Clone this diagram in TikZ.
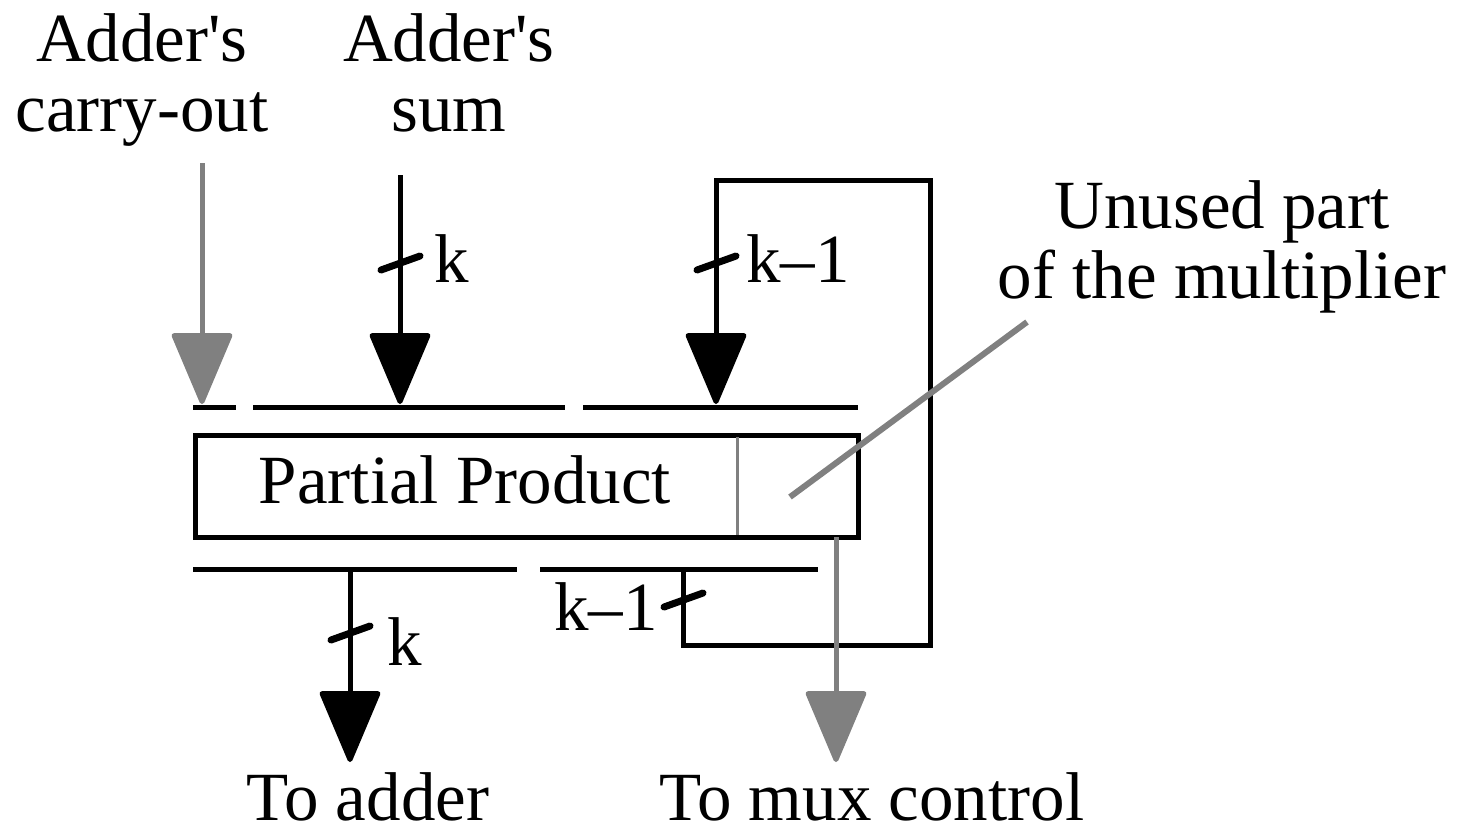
\documentclass[tikz,border=0pt]{standalone}
\usepackage{fontspec}
\setmainfont{Liberation Serif}
\usepackage{tikz}
\usetikzlibrary{arrows.meta, calc}

\begin{document}
\begin{tikzpicture}[x=0.5pt,y=-0.5pt,
    every node/.style={font=\fontsize{34.5pt}{35pt}\selectfont, inner sep=0pt},
    wire/.style={line width=2.5pt},
    greywire/.style={line width=2.5pt, gray},
    sig/.style={-{Triangle[length=37.5pt,width=31pt,round]}},
    slash/.style={line width=3.5pt, line cap=round}]
  \useasboundingbox (0,0) rectangle (1457,827);
  % register
  \node[draw, line width=2.5pt, minimum width=331.5pt, minimum height=51pt] (pp) at (526.5,486) {};
  \node (pptext) at (465,503) [anchor=base] {Partial Product};
  \draw[gray, line width=1.5pt] (737,437) -- (737,535);
  % bus lines above and below
  \coordinate (ti1) at (193,407); \coordinate (to1) at (236,407);
  \coordinate (ti2) at (253,407); \coordinate (to2) at (565,407);
  \coordinate (ti3) at (583,407); \coordinate (to3) at (858,407);
  \coordinate (bi1) at (193,569); \coordinate (bo1) at (517,569);
  \coordinate (bi2) at (540,569); \coordinate (bo2) at (818,569);
  \draw[wire] (ti1) -- (to1);
  \draw[wire] (ti2) -- (to2);
  \draw[wire] (ti3) -- (to3);
  \draw[wire] (bi1) -- (bo1);
  \draw[wire] (bi2) -- (bo2);
  % inputs
  \node[align=center] (cout) at (142,80) {Adder\textquotesingle s\\carry-out};
  \node[align=center] (sum) at (449,73) {Adder\textquotesingle s\\sum};
  \coordinate (coutin) at (202,163);  \coordinate (coutend) at (202,404);
  \coordinate (sumin) at (400,175);   \coordinate (sumend) at (400,404);
  \draw[greywire, sig] (coutin) -- (coutend);
  \draw[wire, sig] (sumin) -- (sumend);
  \draw[slash] (381,270) -- (420,256);
  \node (ksum) at (452,282) [anchor=base] {k};
  % feedback of the shifted bits
  \coordinate (fbout) at (683,569);
  \coordinate (fbin) at (716,404);
  \draw[wire, sig] (fbout) |- (930,645) |- (716,180) -- (fbin);
  \draw[slash] (697,270) -- (736,256);
  \node (kfb) at (798,282) [anchor=base] {k--1};
  \draw[slash] (664,607) -- (703,593);
  \node (kback) at (606,630) [anchor=base] {k--1};
  % outputs
  \node (toadd) at (368,820) [anchor=base] {To adder};
  \node (tomux) at (872,820) [anchor=base] {To mux control};
  \coordinate (addout) at (350,569);  \coordinate (addend) at (350,762);
  \coordinate (muxout) at (836,537);  \coordinate (muxend) at (836,762);
  \draw[wire, sig] (addout) -- (addend);
  \draw[slash] (331,640) -- (370,626);
  \node (kout) at (405,665) [anchor=base] {k};
  \draw[greywire, sig] (muxout) -- (muxend);
  % pointer to the unused part
  \node[align=center] (unused) at (1222,247) {Unused part\\of the multiplier};
  \coordinate (unusedtip) at (790,497);
  \coordinate (unusedfrom) at (1027,322);
  \draw[gray, line width=3pt] (unusedtip) -- (unusedfrom);
\end{tikzpicture}
\end{document}
